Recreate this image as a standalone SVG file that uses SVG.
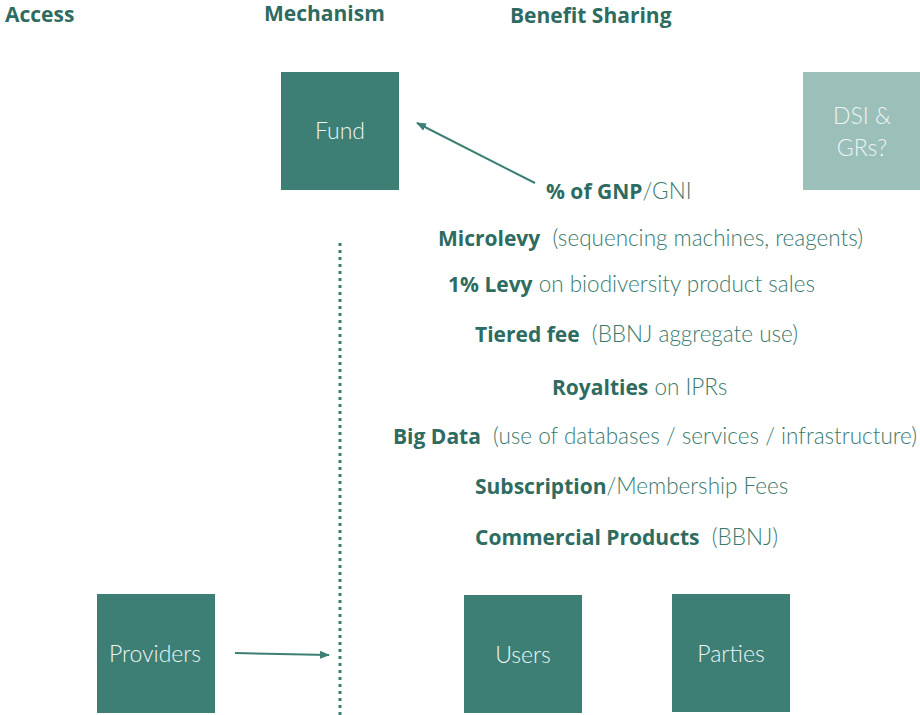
<svg xmlns="http://www.w3.org/2000/svg" width="920" height="715" viewBox="0 0 920 715">
<style>
.box{fill:#3D7F75}
.box2{fill:#9BBFB9}
.bt{fill:#EEF5F3;font-family:Lato,"Open Sans",sans-serif;font-weight:300;font-size:23px;text-anchor:middle}
.hd{fill:#2E6B60;font-family:"Open Sans",Lato,sans-serif;font-weight:700;font-size:21px;letter-spacing:0px}
.ln{fill:#3A7A6E;font-family:Lato,"Open Sans",sans-serif;font-weight:300;font-size:22.5px}
.b{fill:#2E6B60;font-family:"Open Sans",Lato,sans-serif;font-weight:700;font-size:21px;letter-spacing:0px}
.conn{stroke:#3D7F75;stroke-width:2;fill:none}
</style>
<defs>
<marker id="ah" markerWidth="10" markerHeight="8" refX="9" refY="4" orient="auto" markerUnits="userSpaceOnUse">
<path d="M0,0 L10,4 L0,8 Z" fill="#3D7F75"/>
</marker>
</defs>
<rect width="920" height="715" fill="#ffffff"/>
<g id="headers">
<text class="hd" x="5" y="22">Access</text>
<text class="hd" x="264" y="21">Mechanism</text>
<text class="hd" x="510" y="23">Benefit Sharing</text>
</g>
<g id="fund"><rect class="box" x="281" y="72" width="118" height="118"/><text class="bt" x="340" y="139">Fund</text></g>
<g id="dsi"><rect class="box2" x="803" y="72" width="118" height="118"/><text class="bt" x="862" y="124">DSI &amp;</text><text class="bt" x="862" y="156">GRs?</text></g>
<g id="providers"><rect class="box" x="97" y="594" width="118" height="119"/><text class="bt" x="155" y="662">Providers</text></g>
<g id="users"><rect class="box" x="464" y="595" width="118" height="118"/><text class="bt" x="523" y="663">Users</text></g>
<g id="parties"><rect class="box" x="672" y="594" width="118" height="118"/><text class="bt" x="731" y="662">Parties</text></g>
<g id="connectors">
<line x1="340" y1="243" x2="340" y2="715" stroke="#3D7F75" stroke-width="3" stroke-dasharray="3,4"/>
<line class="conn" x1="235" y1="653" x2="329" y2="655" marker-end="url(#ah)"/>
<line class="conn" x1="535" y1="183" x2="417" y2="123" marker-end="url(#ah)"/>
</g>
<g id="items">
<text x="546" y="199"><tspan class="b">% of GNP</tspan><tspan class="ln">/GNI</tspan></text>
<text x="438" y="246"><tspan class="b">Microlevy</tspan><tspan class="ln" xml:space="preserve">  (sequencing machines, reagents)</tspan></text>
<text x="448" y="292"><tspan class="b">1% Levy</tspan><tspan class="ln" xml:space="preserve"> on biodiversity product sales</tspan></text>
<text x="475" y="342"><tspan class="b">Tiered fee</tspan><tspan class="ln" xml:space="preserve">  (BBNJ aggregate use)</tspan></text>
<text x="552" y="395"><tspan class="b">Royalties</tspan><tspan class="ln" xml:space="preserve"> on IPRs</tspan></text>
<text x="393" y="444"><tspan class="b">Big Data</tspan><tspan class="ln" xml:space="preserve">  (use of databases / services / infrastructure)</tspan></text>
<text x="475" y="494"><tspan class="b">Subscription</tspan><tspan class="ln">/Membership Fees</tspan></text>
<text x="475" y="545"><tspan class="b">Commercial Products</tspan><tspan class="ln" xml:space="preserve">  (BBNJ)</tspan></text>
</g>
</svg>
